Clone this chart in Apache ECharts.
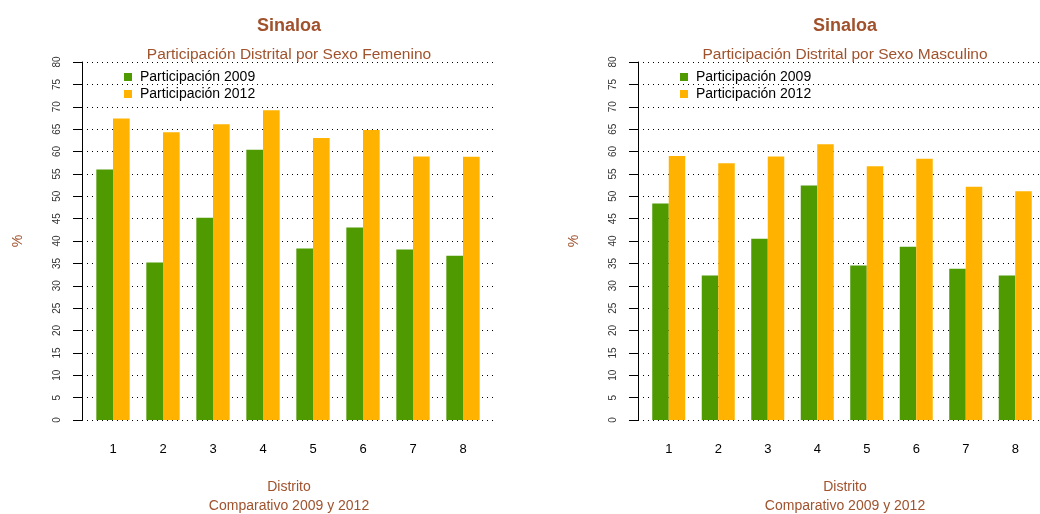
<!DOCTYPE html>
<html>
<head>
<meta charset="utf-8">
<script src="https://cdn.jsdelivr.net/npm/echarts@6/dist/echarts.min.js"></script>
<style>
  html, body { margin: 0; padding: 0; background: #ffffff; }
  #chart { width: 1040px; height: 514px; }
</style>
</head>
<body>
<div id="chart"></div>
<script>
// District turnout by sex, Sinaloa: 2009 vs 2012 (%)
const distritos = ['1', '2', '3', '4', '5', '6', '7', '8'];
const femenino2009 = [56.0, 35.2, 45.2, 60.4, 38.3, 43.0, 38.1, 36.7];
const femenino2012 = [67.4, 64.3, 66.1, 69.2, 63.0, 64.8, 58.9, 58.8];
const masculino2009 = [48.4, 32.3, 40.5, 52.4, 34.5, 38.7, 33.8, 32.3];
const masculino2012 = [59.0, 57.4, 58.9, 61.6, 56.7, 58.4, 52.1, 51.1];
const yTicks = [0, 5, 10, 15, 20, 25, 30, 35, 40, 45, 50, 55, 60, 65, 70, 75, 80];
const serieNames = ['Participación 2009', 'Participación 2012'];
const panelTitles = ['Participación Distrital por Sexo Femenino', 'Participación Distrital por Sexo Masculino'];

const FONT = '"Liberation Sans", Arial, sans-serif';
const BROWN = '#A0522D';
const GREEN = '#4E9A00';
const ORANGE = '#FFB300';

const chart = echarts.init(document.getElementById('chart'), null, { renderer: 'canvas' });

const PANEL_SHIFT = 556;
const titles = [];
const grids = [];
const xAxes = [];
const yAxes = [];
const series = [];
const legends = [];

[[femenino2009, femenino2012], [masculino2009, masculino2012]].forEach((vals, p) => {
  const dx = p * PANEL_SHIFT;
  const axisLeft = 82 + dx;
  const center = 284 + dx;
  const textBase = { fontFamily: FONT, color: BROWN };

  titles.push(
    { text: 'Sinaloa', left: center, top: 12, textAlign: 'center',
      textStyle: Object.assign({ fontSize: 18, fontWeight: 'bold' }, textBase) },
    { text: panelTitles[p], left: center, top: 42, textAlign: 'center',
      textStyle: Object.assign({ fontSize: 15.5, fontWeight: 'normal' }, textBase) },
    { text: 'Distrito', left: center, top: 475, textAlign: 'center',
      textStyle: Object.assign({ fontSize: 14, fontWeight: 'normal' }, textBase) },
    { text: 'Comparativo 2009 y 2012', left: center, top: 494, textAlign: 'center',
      textStyle: Object.assign({ fontSize: 14, fontWeight: 'normal' }, textBase) }
  );

  // full plot region: axis line, ticks and dotted guides
  const gFrame = grids.length;
  grids.push({ left: axisLeft, top: 62, width: 414, height: 358 });
  xAxes.push({ gridIndex: gFrame, type: 'value', min: 0, max: 1, show: false });
  yAxes.push({
    gridIndex: gFrame, type: 'value', min: yTicks[0], max: yTicks[yTicks.length - 1], interval: 5,
    name: '%', nameLocation: 'middle', nameGap: 57, nameRotate: 90,
    nameTextStyle: { fontFamily: FONT, fontSize: 14, color: BROWN },
    axisLine: { show: true, lineStyle: { color: '#000', width: 1 } },
    axisTick: { show: true, length: 9, lineStyle: { color: '#000', width: 1 } },
    axisLabel: { rotate: 90, margin: 20, fontFamily: FONT, fontSize: 10, color: '#333' },
    splitLine: { show: true, lineStyle: { color: '#000', width: 1, type: [1, 4] } }
  });

  // bar region
  const gBars = grids.length;
  grids.push({ left: axisLeft + 6, top: 62, width: 400, height: 358 });
  xAxes.push({
    gridIndex: gBars, type: 'category', data: distritos,
    axisLine: { show: false }, axisTick: { show: false },
    axisLabel: { margin: 23, fontFamily: FONT, fontSize: 13, color: '#000' }
  });
  yAxes.push({ gridIndex: gBars, type: 'value', min: 0, max: 80, show: false });

  [GREEN, ORANGE].forEach((col, i) => {
    series.push({
      name: serieNames[i], type: 'bar', xAxisIndex: gBars, yAxisIndex: gBars,
      data: vals[i], barGap: '0%', barCategoryGap: '33.33%',
      itemStyle: { color: col, borderWidth: 0 },
      emphasis: { disabled: true }
    });
  });

  legends.push({
    orient: 'vertical', left: 119 + dx, top: 65, itemWidth: 8, itemHeight: 8, itemGap: 3,
    icon: 'rect', selectedMode: false, data: serieNames,
    textStyle: { fontFamily: FONT, fontSize: 14, color: '#000', padding: [0, 0, 0, 3] }
  });
});

chart.setOption({
  backgroundColor: '#ffffff',
  animation: false,
  color: [GREEN, ORANGE],
  title: titles,
  legend: legends,
  grid: grids,
  xAxis: xAxes,
  yAxis: yAxes,
  series: series
});
</script>
</body>
</html>
